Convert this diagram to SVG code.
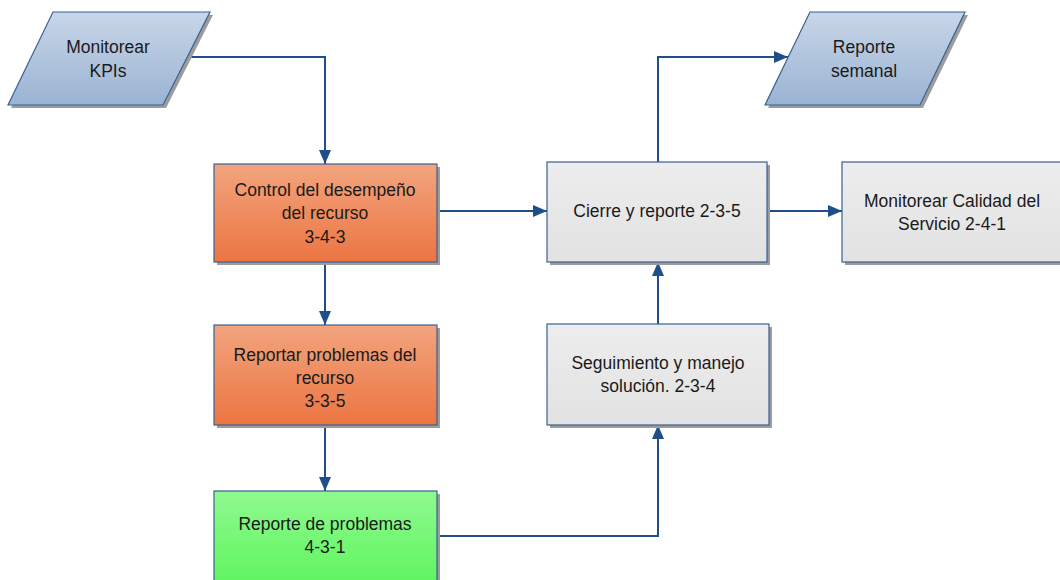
<svg xmlns="http://www.w3.org/2000/svg" width="1060" height="580" viewBox="0 0 1060 580">
  <defs>
    <linearGradient id="gBlue" x1="0" y1="0" x2="0" y2="1">
      <stop offset="0" stop-color="#C8D6E8"/>
      <stop offset="1" stop-color="#9AB3D3"/>
    </linearGradient>
    <linearGradient id="gOrange" x1="0" y1="0" x2="0" y2="1">
      <stop offset="0" stop-color="#F2A47E"/>
      <stop offset="1" stop-color="#EC7541"/>
    </linearGradient>
    <linearGradient id="gGreen" x1="0" y1="0" x2="0" y2="1">
      <stop offset="0" stop-color="#8FFA8F"/>
      <stop offset="1" stop-color="#5CF45C"/>
    </linearGradient>
    <linearGradient id="gGray" x1="0" y1="0" x2="0" y2="1">
      <stop offset="0" stop-color="#EDEDED"/>
      <stop offset="1" stop-color="#E2E2E2"/>
    </linearGradient>
    <marker id="arrow" viewBox="0 0 14 12" refX="14" refY="6" markerWidth="14" markerHeight="12" markerUnits="userSpaceOnUse" orient="auto">
      <path d="M0,0 L14,6 L0,12 Z" fill="#1F4E8A"/>
    </marker>
  </defs>
  <style>
    .shadow { fill: #9C9C9C; }
    .shape { stroke: #3A6094; stroke-width: 1.2; }
    .label { font-family: "Liberation Sans", Arial, sans-serif; font-size: 17.5px; fill: #1A1A1A; text-anchor: middle; }
    .conn { fill: none; stroke: #1F4E8A; stroke-width: 2; marker-end: url(#arrow); }
  </style>
  <rect width="1060" height="580" fill="#FFFFFF"/>

  <!-- connectors -->
  <g id="connectors">
    <polyline class="conn" points="186,57 325,57 325,164"/>
    <polyline class="conn" points="437,211 547,211"/>
    <polyline class="conn" points="767,211 842,211"/>
    <polyline class="conn" points="325,262 325,325"/>
    <polyline class="conn" points="325,425 325,491"/>
    <polyline class="conn" points="437,536 658,536 658,425"/>
    <polyline class="conn" points="658,324 658,262"/>
    <polyline class="conn" points="658,162 658,57 788,57"/>
  </g>

  <!-- Monitorear KPIs (data input) -->
  <g id="monitorear-kpis">
    <polygon class="shadow" points="56,15 213,15 166,108 11,108"/>
    <polygon class="shape" fill="url(#gBlue)" points="53,12 210,12 163,105 8,105"/>
    <text class="label" x="108" y="53">Monitorear</text>
    <text class="label" x="108" y="77">KPIs</text>
  </g>

  <!-- Control del desempeño del recurso -->
  <g id="control-desempeno">
    <rect class="shadow" x="217" y="167" width="223" height="98"/>
    <rect class="shape" fill="url(#gOrange)" x="214" y="164" width="223" height="98"/>
    <text class="label" x="325" y="196">Control del desempeño</text>
    <text class="label" x="325" y="219">del recurso</text>
    <text class="label" x="325" y="243">3-4-3</text>
  </g>

  <!-- Reportar problemas del recurso -->
  <g id="reportar-problemas">
    <rect class="shadow" x="217" y="328" width="223" height="100"/>
    <rect class="shape" fill="url(#gOrange)" x="214" y="325" width="223" height="100"/>
    <text class="label" x="325" y="361">Reportar problemas del</text>
    <text class="label" x="325" y="384">recurso</text>
    <text class="label" x="325" y="407">3-3-5</text>
  </g>

  <!-- Reporte de problemas -->
  <g id="reporte-problemas">
    <rect class="shadow" x="217" y="494" width="223" height="100"/>
    <rect class="shape" fill="url(#gGreen)" x="214" y="491" width="223" height="100"/>
    <text class="label" x="325" y="530">Reporte de problemas</text>
    <text class="label" x="325" y="553">4-3-1</text>
  </g>

  <!-- Cierre y reporte -->
  <g id="cierre-reporte">
    <rect class="shadow" x="550" y="165" width="220" height="100"/>
    <rect class="shape" fill="url(#gGray)" x="547" y="162" width="220" height="100"/>
    <text class="label" x="657" y="217">Cierre y reporte 2-3-5</text>
  </g>

  <!-- Monitorear Calidad del Servicio -->
  <g id="monitorear-calidad">
    <rect class="shadow" x="845" y="165" width="230" height="100"/>
    <rect class="shape" fill="url(#gGray)" x="842" y="162" width="230" height="100"/>
    <text class="label" x="952" y="207">Monitorear Calidad del</text>
    <text class="label" x="952" y="230">Servicio 2-4-1</text>
  </g>

  <!-- Seguimiento y manejo solución -->
  <g id="seguimiento">
    <rect class="shadow" x="550" y="327" width="222" height="101"/>
    <rect class="shape" fill="url(#gGray)" x="547" y="324" width="222" height="101"/>
    <text class="label" x="658" y="369">Seguimiento y manejo</text>
    <text class="label" x="658" y="392">solución. 2-3-4</text>
  </g>

  <!-- Reporte semanal (data output) -->
  <g id="reporte-semanal">
    <polygon class="shadow" points="813,15 968,15 923,108 768,108"/>
    <polygon class="shape" fill="url(#gBlue)" points="810,12 965,12 920,105 765,105"/>
    <text class="label" x="864" y="53">Reporte</text>
    <text class="label" x="864" y="77">semanal</text>
  </g>
</svg>
